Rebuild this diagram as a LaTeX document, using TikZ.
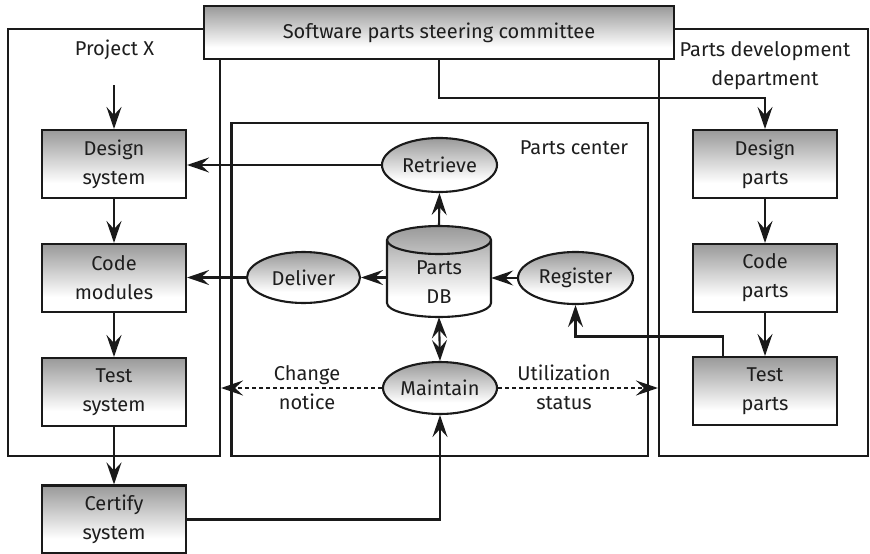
\documentclass[tikz,border=0pt]{standalone}
\usepackage{fontspec}
\setmainfont{Fira Sans}
\usetikzlibrary{arrows.meta,shapes.geometric,calc}
\definecolor{ink}{HTML}{1A1A1A}
\definecolor{txt}{HTML}{1E1E1E}
\pgfdeclareverticalshading{boxshade}{100bp}{color(0bp)=(white); color(25bp)=(white); color(36bp)=(white); color(75bp)=(black!40); color(100bp)=(black!40)}
\begin{document}
\begin{tikzpicture}[x=1pt,y=-1pt,
  every node/.style={text=txt,font=\fontsize{20}{29}\selectfont},
  frame/.style={draw=ink,line width=2.1pt,fill=white,inner sep=0},
  gbox/.style={draw=ink,line width=2.1pt,shade,shading=boxshade,minimum width=144pt,minimum height=68pt,align=center,inner sep=0},
  oval/.style={ellipse,draw=ink,line width=2.1pt,shade,shading=boxshade,inner sep=0},
  lbl/.style={align=center,inner sep=0},
  arr/.style={draw=ink,line width=2.1pt,-{Stealth[length=22pt,width=15pt,inset=8pt]}},
  darr/.style={arr,dash pattern=on 4pt off 3pt},
  barr/.style={draw=ink,line width=2.1pt,{Stealth[length=21pt,width=15pt,inset=8pt]}-{Stealth[length=21pt,width=15pt,inset=8pt]}}]
\useasboundingbox (0,0) rectangle (870,554);
% frames
\node[frame,minimum width=212pt,minimum height=427pt] (px) at (114,242.5) {};
\node[frame,minimum width=209pt,minimum height=427pt] (pdd) at (763.5,242.5) {};
\node[frame,minimum width=416.5pt,minimum height=333pt] (pc) at (439.75,289.5) {};
% top box
\node[gbox,minimum width=470pt,minimum height=53pt] (top) at (439,32.5) {Software parts steering committee};
% labels
\node[lbl] (lpx) at (114.5,50) {Project X};
\node[lbl,text depth=0pt] (lpdd) at (765,63) {Parts development\\department};
\node[lbl] (lpc) at (574,148) {Parts center};
% left boxes
\node[gbox] (ds) at (114,164) {Design\\system};
\node[gbox] (cm) at (114,278) {Code\\modules};
\node[gbox] (ts) at (114,392) {Test\\system};
\node[gbox] (cs) at (114,519.5) {Certify\\system};
% right boxes
\node[gbox] (dp) at (765,164) {Design\\parts};
\node[gbox] (cp) at (765,278) {Code\\parts};
\node[gbox] (tp) at (765,391) {Test\\parts};
% ovals
\node[oval,minimum width=115pt,minimum height=54pt] (ret) at (439.5,165) {Retrieve};
\node[oval,minimum width=113pt,minimum height=51pt] (dl) at (303.5,277.5) {Deliver};
\node[oval,minimum width=115pt,minimum height=52pt] (reg) at (575.5,278) {Register};
\node[oval,minimum width=114pt,minimum height=52pt] (mt) at (440,388) {Maintain};
% cylinder
\fill[shading=boxshade] (387,240) -- (387,303) arc[start angle=180,end angle=0,x radius=52,y radius=14] -- (491,240) arc[start angle=0,end angle=-180,x radius=52,y radius=14] -- cycle;
\draw[ink,line width=2.1pt] (387,240) -- (387,303) arc[start angle=180,end angle=0,x radius=52,y radius=14] -- (491,240) arc[start angle=0,end angle=-180,x radius=52,y radius=14] -- cycle;
\draw[ink,line width=2.1pt] (387,240) arc[start angle=180,end angle=0,x radius=52,y radius=14];
\node[lbl,minimum width=104pt,minimum height=91pt] (db) at (439,271.5) {};
\node[lbl] (dbt) at (439,282.5) {Parts\\DB};
% connectors
\coordinate (pin) at (114,85);
\draw[arr] (pin) -- (ds.north);
\draw[arr] (ds.south) -- (cm.north);
\draw[arr] (cm.south) -- (ts.north);
\draw[arr] (ts.south) -- (cs.north);
\draw[arr] (top.south) -- ++(0,37.5) -| (dp.north);
\draw[arr] (dp.south) -- (cp.north);
\draw[arr] (cp.south) -- (tp.north);
\draw[arr] ([xshift=-42pt]tp.north) -- ++(0,-19.5) -| (reg.south);
\draw[arr] (ret.west) -- (ret.west -| ds.east);
\draw[arr] (dl.west) -- (dl.west -| cm.east);
\draw[arr] (dl.east -| db.west) -- (dl.east);
\draw[arr] (reg.west) -- (reg.west -| db.east);
\draw[arr] (db.north) -- (ret.south);
\draw[barr] (db.south) -- (mt.north);
\draw[arr] (cs.east) -| (mt.south);
\draw[darr] (mt.west) -- (mt.west -| px.east);
\draw[darr] (mt.east) -- (mt.east -| pdd.west);
\node[lbl] (chg) at (307,387.5) {Change\\notice};
\node[lbl] (util) at (564,387.5) {Utilization\\status};
\end{tikzpicture}
\end{document}
